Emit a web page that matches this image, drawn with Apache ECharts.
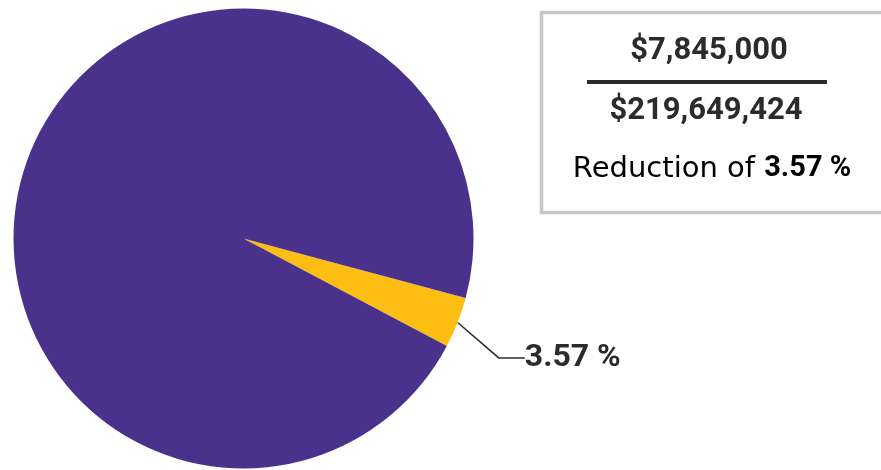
<!DOCTYPE html>
<html>
<head>
<meta charset="utf-8">
<script src="https://cdn.jsdelivr.net/npm/echarts@6/dist/echarts.min.js"></script>
<style>
html,body{margin:0;padding:0;background:#fff;}
#chart{width:881px;height:470px;}
</style>
</head>
<body>
<div id="chart"></div>
<script>
// ---- data ----
const categories = ['Reduction', 'Remaining budget'];
const reductionAmount = 7845000;
const totalAmount = 219649424;
const sliceValues = [reductionAmount, totalAmount - reductionAmount];
const sliceColors = ['#fdbe14', '#4a328c'];

const fmtMoney = v => '$' + v.toLocaleString('en-US');
const pctText = (reductionAmount / totalAmount * 100).toFixed(2) + ' %';

const chart = echarts.init(document.getElementById('chart'), null, {renderer: 'canvas'});

const option = {
  backgroundColor: '#ffffff',
  animation: false,
  series: [{
    type: 'pie',
    center: [243.5, 238.5],
    radius: 230,
    startAngle: -15,
    clockwise: true,
    avoidLabelOverlap: false,
    itemStyle: {borderWidth: 0},
    label: {
      show: true,
      position: 'outside',
      formatter: p => p.percent.toFixed(2) + ' %',
      fontFamily: 'Roboto',
      fontWeight: 'bold',
      fontSize: 32,
      color: '#2b2b2b'
    },
    labelLine: {
      show: true,
      length: 12,
      length2: 26,
      lineStyle: {color: '#2b2b2b', width: 1.5}
    },
    labelLayout: function (params) {
      if (params.dataIndex !== 0) return {};
      const r = params.labelRect;
      return { x: r.x + 25, y: r.y + r.height / 2 + 31 };
    },
    emphasis: {disabled: true},
    data: categories.map((c, i) => ({
      name: c,
      value: sliceValues[i],
      itemStyle: {color: sliceColors[i]},
      label: {show: i === 0},
      labelLine: {show: i === 0}
    }))
  }],
  graphic: [
    {
      type: 'rect',
      shape: {x: 541.5, y: 12.5, width: 360, height: 200},
      style: {fill: '#ffffff', stroke: '#c8c8c8', lineWidth: 3.5},
      z: 1
    },
    {
      type: 'text',
      x: 709, y: 51,
      style: {text: fmtMoney(reductionAmount), font: 'bold 31px Roboto', fill: '#2b2b2b', textAlign: 'center', textVerticalAlign: 'middle'},
      z: 2
    },
    {
      type: 'line',
      shape: {x1: 587, y1: 82, x2: 827, y2: 82},
      style: {stroke: '#2b2b2b', lineWidth: 4},
      z: 2
    },
    {
      type: 'text',
      x: 706, y: 111,
      style: {text: fmtMoney(totalAmount), font: 'bold 31px Roboto', fill: '#2b2b2b', textAlign: 'center', textVerticalAlign: 'middle'},
      z: 2
    },
    {
      type: 'text',
      x: 712, y: 169,
      style: {
        text: '{a|Reduction of }{b|' + pctText + '}',
        textAlign: 'center', textVerticalAlign: 'middle',
        rich: {
          a: {fontFamily: 'DejaVu Sans', fontSize: 29, color: '#333333'},
          b: {fontFamily: 'Roboto', fontWeight: 'bold', fontSize: 29, color: '#2b2b2b'}
        }
      },
      z: 2
    }
  ]
};
chart.setOption(option);
</script>
</body>
</html>
